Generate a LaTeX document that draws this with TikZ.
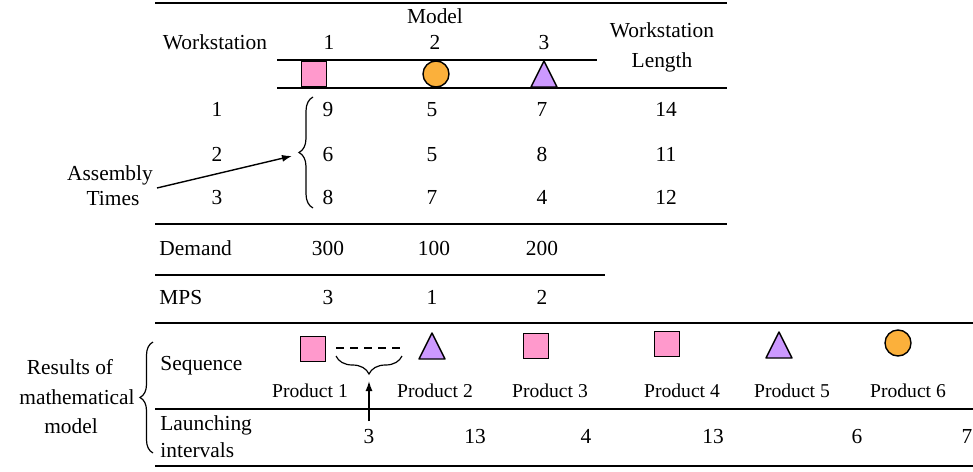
\documentclass[tikz,border=0pt]{standalone}
\usepackage{fontspec}
\setmainfont{Liberation Serif}
\usetikzlibrary{decorations.pathreplacing,arrows.meta}
\definecolor{sqpink}{HTML}{FF99CC}
\definecolor{circorange}{HTML}{FBB03B}
\definecolor{tripurple}{HTML}{CC99FF}
\begin{document}
\begin{tikzpicture}[x=0.5pt,y=-0.5pt,
  txt/.style={inner sep=0pt, font=\fontsize{10.7}{13}\selectfont, text height=1.5ex, text depth=.25ex},
  prod/.style={txt, font=\fontsize{9.8}{12}\selectfont},
  rule/.style={line width=1pt},
  sq/.style={draw, line width=0.7pt, fill=sqpink, minimum size=12.5pt, inner sep=0pt},
  circ/.style={circle, draw, line width=0.7pt, fill=circorange, minimum size=13pt, inner sep=0pt},
  tri/.style={draw, line width=0.7pt, fill=tripurple, line join=round},
  arr/.style={-{Latex[length=5pt,width=3.5pt]}, line width=0.7pt},
  brc/.style={decorate, decoration={brace, amplitude=#1}, line width=0.6pt},
]
\useasboundingbox (0,0) rectangle (973,471);

% ---------- table rules ----------
\draw[rule] (155,3) -- (727,3);
\draw[rule] (277,60) -- (597,60);
\draw[rule] (277,88) -- (727,88);
\draw[rule] (155,224) -- (727,224);
\draw[rule] (155,275) -- (605,275);
\draw[rule] (155,323) -- (973,323);
\draw[rule] (155,409) -- (973,409);
\draw[rule] (155,466) -- (973,466);

% ---------- header ----------
\node[txt] (model) at (435,18) {Model};
\node[txt] (wshead) at (215,44) {Workstation};
\node[txt] (m1) at (329,44) {1};
\node[txt] (m2) at (435,44) {2};
\node[txt] (m3) at (544,44) {3};
\node[txt] (wl1) at (662,32) {Workstation};
\node[txt] (wl2) at (662,62) {Length};

\node[sq] (hsq) at (314,74) {};
\node[circ] (hci) at (436,74) {};
\coordinate (htri) at (544,74);
\draw[tri] (htri) ++(-13,13) -- ++(26,0) -- ++(-13,-26) -- cycle;

% ---------- assembly times ----------
\foreach \r/\y/\a/\b/\c/\l in {1/111/9/5/7/14, 2/156/6/5/8/11, 3/199/8/7/4/12}{
  \node[txt] (ws\r) at (217,\y) {\r};
  \node[txt] (ta\r) at (328,\y) {\a};
  \node[txt] (tb\r) at (432,\y) {\b};
  \node[txt] (tc\r) at (542,\y) {\c};
  \node[txt] (len\r) at (666,\y) {\l};
}
\draw[brc=7pt] (313,208) -- (313,97);
\coordinate (bracetip) at (292,156);

\node[txt] (asm1) at (110,175) {Assembly};
\node[txt] (asm2) at (113,200) {Times};
\coordinate (asmstart) at (157,188);
\draw[arr] (asmstart) -- (bracetip);

% ---------- demand and MPS ----------
\node[txt, anchor=west] (dem) at (159,250) {Demand};
\node[txt] (d1) at (328,250) {300};
\node[txt] (d2) at (434,250) {100};
\node[txt] (d3) at (542,250) {200};

\node[txt, anchor=west] (mps) at (159,299) {MPS};
\node[txt] (p1) at (328,299) {3};
\node[txt] (p2) at (432,299) {1};
\node[txt] (p3) at (542,299) {2};

% ---------- sequence ----------
\node[txt, anchor=west] (seq) at (160,365) {Sequence};

\node[sq] (s1) at (313,349) {};
\coordinate (t2) at (432,346);
\draw[tri] (t2) ++(-13,13) -- ++(26,0) -- ++(-13,-26) -- cycle;
\node[sq] (s3) at (536,346) {};
\node[sq] (s4) at (667,344) {};
\coordinate (t5) at (779,345);
\draw[tri] (t5) ++(-13,13) -- ++(26,0) -- ++(-13,-26) -- cycle;
\node[circ] (c6) at (898,343) {};

\coordinate (gapl) at (336,348);
\coordinate (gapr) at (402,348);
\draw[dashed, line width=0.6pt, dash pattern=on 4pt off 3pt] (gapl) -- (gapr);
\draw[brc=9pt] (402,356) -- (336,356);

\node[prod] (pr1) at (310,392) {Product 1};
\node[prod] (pr2) at (435,392) {Product 2};
\node[prod] (pr3) at (550,392) {Product 3};
\node[prod] (pr4) at (682,392) {Product 4};
\node[prod] (pr5) at (792,392) {Product 5};
\node[prod] (pr6) at (908,392) {Product 6};

% ---------- launching intervals ----------
\node[txt, anchor=west] (lau1) at (160,425) {Launching};
\node[txt, anchor=west] (lau2) at (160,452) {intervals};

\node[txt] (li1) at (369,438) {3};
\node[txt] (li2) at (475,438) {13};
\node[txt] (li3) at (586,438) {4};
\node[txt] (li4) at (713,438) {13};
\node[txt] (li5) at (857,438) {6};
\node[txt] (li6) at (967,438) {7};

\coordinate (gapmark) at (369,381);
\coordinate (gaparrow) at (369,421);
\draw[arr] (gaparrow) -- (gapmark);

% ---------- results label ----------
\node[txt] (res1) at (70,369) {Results of};
\node[txt] (res2) at (77,399) {mathematical};
\node[txt] (res3) at (71,428) {model};
\draw[brc=6.5pt] (153,453) -- (153,342);

\end{tikzpicture}
\end{document}
